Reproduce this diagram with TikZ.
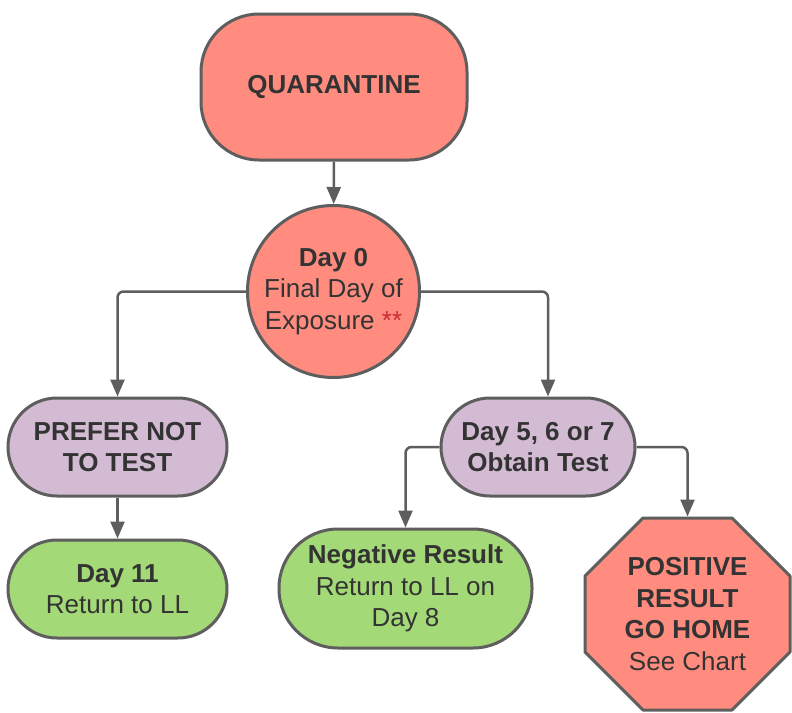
\documentclass[tikz,border=0pt]{standalone}
\usepackage{fontspec}
\setmainfont{Liberation Sans}
\usetikzlibrary{arrows.meta}
\definecolor{salmon}{HTML}{FF8C7E}
\definecolor{lilac}{HTML}{D3BBD3}
\definecolor{leaf}{HTML}{A3D977}
\definecolor{edge}{HTML}{5E5E5E}
\definecolor{ink}{HTML}{333333}
\definecolor{star}{HTML}{C92D39}
\tikzset{
  box/.style={draw=edge, line width=3pt, text=ink, align=center,
    font=\fontsize{26}{31.5}\selectfont},
  arr/.style={-{Triangle[width=14pt,length=17pt]}, draw=edge, line width=2.5pt,
    rounded corners=6pt},
}
\begin{document}
\begin{tikzpicture}[x=1pt,y=-1pt]
    \useasboundingbox (0,0) rectangle (792,712);
    \node[box, fill=salmon, minimum width=266pt, minimum height=146pt, rounded corners=58pt] (quar) at (334,87) {\bfseries QUARANTINE};
    \node[box, fill=salmon, circle, minimum size=172pt, inner sep=0pt] (day0) at (333.5,291.5) {\textbf{Day 0}\\Final Day of\\Exposure {\color{star}**}};
    \node[box, fill=lilac, minimum width=219pt, minimum height=98pt, rounded corners=49pt] (notest) at (117.5,447) {\bfseries PREFER NOT\\\bfseries TO TEST};
    \node[box, fill=leaf, minimum width=219pt, minimum height=98pt, rounded corners=49pt] (day11) at (117.5,589) {\textbf{Day 11}\\Return to LL};
    \node[box, fill=lilac, minimum width=194pt, minimum height=98pt, rounded corners=49pt] (test) at (538,447) {\bfseries Day 5, 6 or 7\\\bfseries Obtain Test};
    \node[box, fill=leaf, minimum width=253pt, minimum height=119pt, rounded corners=59pt] (neg) at (405.5,588.5) {\textbf{Negative Result}\\Return to LL on\\Day 8};
    % stop sign
    \filldraw[fill=salmon, draw=edge, line width=3pt, line join=round]
      (687.5,614) ++(-44.5,-96) -- ++(89,0) -- ++(58,58) -- ++(0,76) -- ++(-58,58)
      -- ++(-89,0) -- ++(-58,-58) -- ++(0,-76) -- cycle;
    \node[box, draw=none, minimum width=205pt, minimum height=192pt] (pos) at (687.5,614) {\bfseries POSITIVE\\\bfseries RESULT\\\bfseries GO HOME\\See Chart};
    % connectors
    \draw[arr] (quar) -- (day0);
    \draw[arr] (day0.west) -| (notest.north);
    \draw[arr] (day0.east) -| ([xshift=10pt]test.north);
    \draw[arr] (notest) -- (day11);
    \draw[arr] (test.west) -| (neg.north);
    \draw[arr] (test.east) -| (pos.north);
\end{tikzpicture}
\end{document}
